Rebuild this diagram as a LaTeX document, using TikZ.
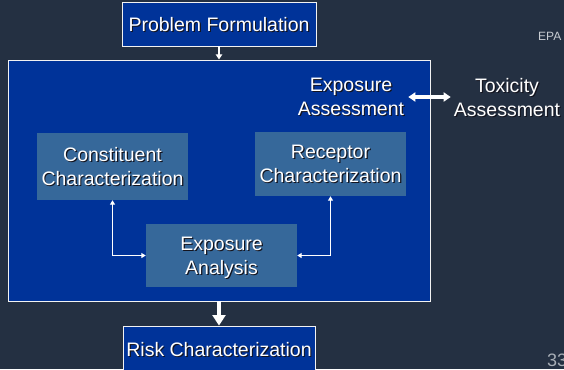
\documentclass[tikz,border=0pt]{standalone}
\usepackage{fontspec}
\setmainfont{Liberation Sans}
\usetikzlibrary{arrows.meta}
\definecolor{slidebg}{RGB}{36,48,66}
\definecolor{panelblue}{RGB}{0,51,153}
\definecolor{steelbox}{RGB}{54,104,154}
\definecolor{shadowc}{RGB}{20,20,30}
\definecolor{footgray}{RGB}{200,204,210}
% white text with a small dark drop shadow
\newcommand{\sh}[1]{\leavevmode\rlap{\kern1.2pt\raisebox{-1.2pt}{\color{shadowc}#1}}#1}
\begin{document}
\begin{tikzpicture}[x=1pt,y=-1pt,
  bigtext/.style={text=white,font=\fontsize{19.5}{24}\selectfont,align=center,inner sep=2pt},
  framedbox/.style={bigtext,fill=panelblue,draw=white!90!gray,line width=0.9pt,inner sep=0pt,text depth=-3.5pt},
  innerbox/.style={bigtext,fill=steelbox,inner sep=0pt,text depth=-3pt},
  thinlink/.style={draw=white,line width=1.8pt,{Triangle[length=4.5pt,width=5pt]}-{Triangle[length=4.5pt,width=5pt]}},
  flowarrow/.style={draw=white,line width=#1,-{Triangle[length=2.6*#1,width=3.2*#1]}},
  twoway/.style={draw=white,line width=3.2pt,{Triangle[length=7pt,width=9pt]}-{Triangle[length=7pt,width=9pt]}}
]
\clip (0,0) rectangle (564,369);
\fill[slidebg] (0,0) rectangle (564,369);

% top and bottom steps
\node[framedbox,minimum width=194pt,minimum height=44pt] (pf) at (219,24) {\sh{Problem Formulation}};
\node[framedbox,minimum width=422pt,minimum height=241pt] (big) at (219,180.5) {};
\node[framedbox,minimum width=192pt,minimum height=46pt] (rk) at (219,349) {\sh{Risk Characterization}};

% inner boxes of the exposure assessment panel
\node[innerbox,minimum width=151pt,minimum height=67pt] (cc) at (112.5,166.5) {\sh{Constituent}\\\sh{Characterization}};
\node[innerbox,minimum width=151pt,minimum height=64pt] (rc) at (330.5,164) {\sh{Receptor}\\\sh{Characterization}};
\node[innerbox,minimum width=151pt,minimum height=63pt] (ea) at (221.5,255.5) {\sh{Exposure}\\\sh{Analysis}};

% panel title and the toxicity step beside it
\node[bigtext,text depth=-2pt] (exa) at (351,97) {\sh{Exposure}\\\sh{Assessment}};
\node[bigtext,text depth=-2pt] (tox) at (507,97) {\sh{Toxicity}\\\sh{Assessment}};

% small labels
\node[text=footgray,font=\fontsize{12}{14}\selectfont,anchor=west,inner sep=0pt] (epa) at (538,36) {EPA};
\node[text=footgray!80!slidebg,font=\fontsize{18}{20}\selectfont,anchor=west,inner sep=0pt] (pg) at (547,360) {33};

% connectors
\draw[flowarrow=2pt] (pf.south) -- (big.north);
\draw[flowarrow=4pt] (big.south) -- (rk.north);
\draw[twoway,shorten <=2pt,shorten >=1pt] (exa.east) -- (tox.west);
\draw[thinlink] (cc.south) |- (ea.west);
\draw[thinlink] (rc.south) |- (ea.east);
\end{tikzpicture}
\end{document}
